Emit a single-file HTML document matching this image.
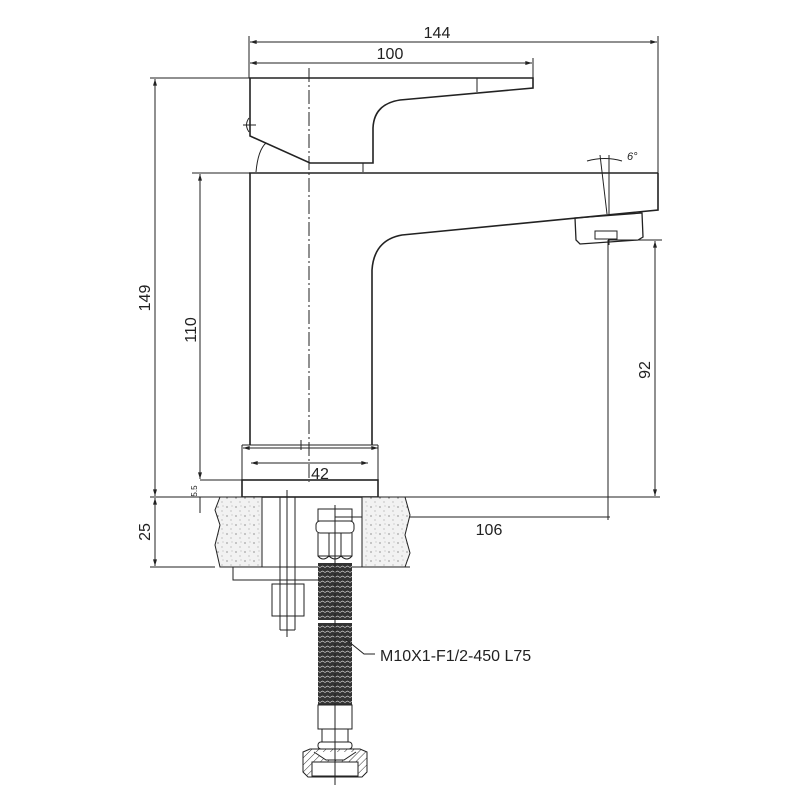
<!DOCTYPE html>
<html><head><meta charset="utf-8"><style>
html,body{margin:0;padding:0;background:#fff;}
svg{display:block}
text{font-family:"Liberation Sans",sans-serif;fill:#222}
</style></head><body>
<svg width="800" height="800" viewBox="0 0 800 800" xmlns="http://www.w3.org/2000/svg">
<defs>
<marker id="a" viewBox="0 0 10 6" refX="10" refY="3" markerWidth="8" markerHeight="4" orient="auto-start-reverse"><path d="M0,0L10,3L0,6z" fill="#222"/></marker>
<pattern id="speck" width="9" height="9" patternUnits="userSpaceOnUse"><rect width="9" height="9" fill="#f2f2f2"/><circle cx="2" cy="3" r="0.6" fill="#555"/><circle cx="6" cy="7" r="0.5" fill="#777"/><circle cx="7" cy="2" r="0.4" fill="#666"/></pattern>
<pattern id="braid" width="5" height="5" patternUnits="userSpaceOnUse"><rect width="5" height="5" fill="#333"/><path d="M0,2.5 L2.5,1 L5,2.5" stroke="#ddd" stroke-width="0.7" fill="none"/></pattern>
<pattern id="hatch" width="5" height="5" patternUnits="userSpaceOnUse" patternTransform="rotate(45)"><rect width="5" height="5" fill="#fff"/><line x1="0" y1="0" x2="0" y2="5" stroke="#333" stroke-width="1"/></pattern>
</defs>
<g stroke="#222" fill="none" stroke-width="1">
<line x1="249" y1="36" x2="249" y2="78"/>
<line x1="658" y1="36" x2="658" y2="173"/>
<line x1="533" y1="58" x2="533" y2="78"/>
<line x1="150" y1="78" x2="249" y2="78"/>
<line x1="192" y1="173" x2="249" y2="173"/>
<line x1="150" y1="567" x2="215" y2="567"/>
<line x1="150" y1="497" x2="660" y2="497"/>
<line x1="608" y1="240" x2="662" y2="240"/>
<line x1="335" y1="517" x2="610" y2="517"/>
<line x1="608" y1="240" x2="608" y2="520"/>
<line x1="250" y1="42" x2="657" y2="42" marker-start="url(#a)" marker-end="url(#a)"/>
<line x1="250" y1="63" x2="532" y2="63" marker-start="url(#a)" marker-end="url(#a)"/>
<line x1="155" y1="79" x2="155" y2="496" marker-start="url(#a)" marker-end="url(#a)"/>
<line x1="155" y1="498" x2="155" y2="566" marker-start="url(#a)" marker-end="url(#a)"/>
<line x1="200" y1="174" x2="200" y2="479" marker-start="url(#a)" marker-end="url(#a)"/>
<line x1="200" y1="480" x2="242" y2="480"/>
<line x1="200" y1="497" x2="200" y2="513"/>
<line x1="655" y1="241" x2="655" y2="496" marker-start="url(#a)" marker-end="url(#a)"/>
<line x1="243" y1="448" x2="378" y2="448" marker-start="url(#a)" marker-end="url(#a)"/>
<line x1="251" y1="463" x2="368" y2="463" marker-start="url(#a)" marker-end="url(#a)"/>
<line x1="242" y1="445" x2="242" y2="480"/><line x1="378" y1="445" x2="378" y2="480"/>
<g stroke-width="1.6">
<path d="M249,78 L533,78 L533,88 L400,100 Q374,104 373,128 L373,163 L310,163 L250,136 L250,78"/>
<line x1="249" y1="173" x2="658" y2="173"/>
<path d="M658,173 L658,210 L402,235 Q374,240 372,270 L372,445"/>
<line x1="250" y1="173" x2="250" y2="445"/>
<rect x="242" y="480" width="136" height="17"/>
<line x1="242" y1="445" x2="378" y2="445" stroke-width="1"/>
</g>
<line x1="477" y1="78" x2="477" y2="92"/>
<line x1="363" y1="163" x2="363" y2="172"/>
<path d="M256,172 Q258,150 266,143"/>
<line x1="243" y1="125" x2="256" y2="125"/><path d="M249,118 Q244,125 249,132"/>
<line x1="309" y1="68" x2="309" y2="482" stroke-dasharray="14,3,2,3"/>
<line x1="301" y1="450" x2="301" y2="440"/>
<path d="M575,218 L642,213 L643,237 L638,240 L580,244 L576,240 Z" stroke-width="1.3"/>
<rect x="595" y="231" width="22" height="8"/>
<line x1="600" y1="155" x2="607" y2="214"/><line x1="609" y1="155" x2="609" y2="214"/>
<line x1="609" y1="240" x2="609" y2="245"/>
<path d="M587,161 Q605,156 622,161"/>
<text x="627" y="160" font-size="11" font-style="italic" stroke="none">6°</text>
<path d="M220,497 L262,497 L262,567 L220,567 L215,545 L220,525 L215,510 Z" fill="url(#speck)"/>
<path d="M362,497 L405,497 L410,515 L405,535 L410,553 L405,567 L362,567 Z" fill="url(#speck)"/>
<line x1="262" y1="567" x2="410" y2="567"/>
<rect x="233" y="567" width="117" height="13"/>
<line x1="280" y1="497" x2="280" y2="630"/><line x1="295" y1="497" x2="295" y2="630"/>
<line x1="287" y1="490" x2="287" y2="637"/>
<rect x="272" y="584" width="32" height="32"/>
<line x1="280" y1="630" x2="295" y2="630"/>
<rect x="318" y="509" width="34" height="12"/>
<rect x="316" y="521" width="38" height="12" rx="4"/>
<path d="M318,533 L318,556 L352,556 L352,533"/>
<path d="M318,556 Q323,562 329,556 Q335,562 341,556 Q347,562 352,556"/>
<line x1="329" y1="533" x2="329" y2="556"/><line x1="341" y1="533" x2="341" y2="556"/>
<rect x="318" y="563" width="34" height="57" fill="url(#braid)" stroke="none"/>
<rect x="318" y="623" width="34" height="82" fill="url(#braid)" stroke="none"/>
<rect x="318" y="705" width="34" height="24"/>
<rect x="322" y="729" width="26" height="13"/>
<rect x="318" y="742" width="34" height="7" rx="3"/>
<path d="M303,752 L310,749 L360,749 L367,752 L367,772 L362,777 L308,777 L303,772 Z" fill="url(#hatch)"/>
<path d="M314,752 L326,760 L344,760 L356,752" fill="#fff"/>
<rect x="312" y="762" width="46" height="14" fill="#fff"/>
<line x1="335" y1="505" x2="335" y2="785"/>
<path d="M343,637 L364,654 L375,654"/>
</g>
<g font-size="16" stroke="none">
<text x="437" y="38" text-anchor="middle">144</text>
<text x="390" y="59" text-anchor="middle">100</text>
<text x="320" y="479" text-anchor="middle">42</text>
<text x="489" y="535" text-anchor="middle">106</text>
<text x="380" y="661">M10X1-F1/2-450 L75</text>
<text transform="translate(150,298) rotate(-90)" text-anchor="middle">149</text>
<text transform="translate(150,532) rotate(-90)" text-anchor="middle">25</text>
<text transform="translate(196,330) rotate(-90)" text-anchor="middle">110</text>
<text transform="translate(650,370) rotate(-90)" text-anchor="middle">92</text>
<text transform="translate(197,491) rotate(-90)" font-size="8" text-anchor="middle">5.5</text>
</g>
</svg>
</body></html>
